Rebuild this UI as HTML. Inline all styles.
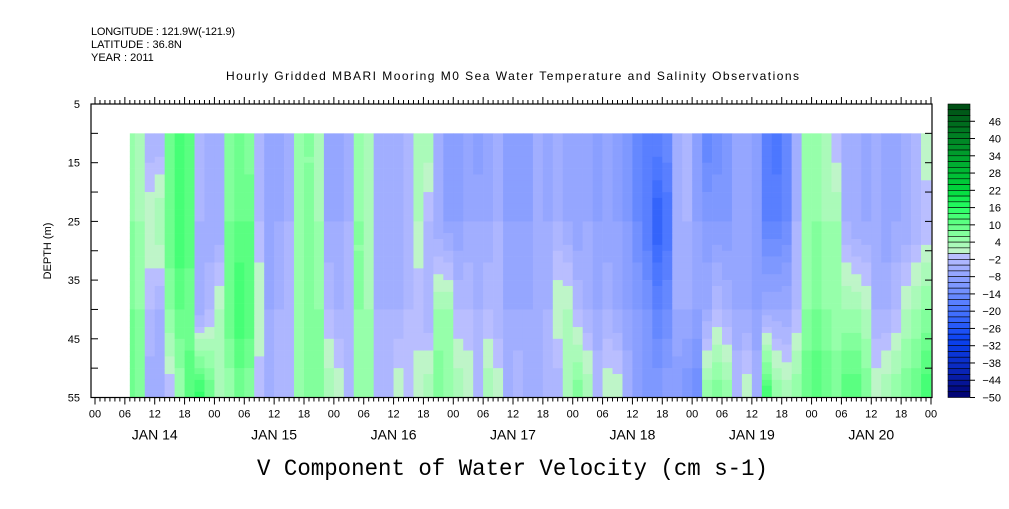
<!DOCTYPE html>
<html><head><meta charset="utf-8"><style>
body{margin:0;background:#fff;width:1009px;height:504px;overflow:hidden}
svg text{font-family:"Liberation Sans",sans-serif;fill:#000}
</style></head><body>
<svg id="c" width="1009" height="504" xmlns="http://www.w3.org/2000/svg">
<text x="91" y="35" font-size="11" textLength="144">LONGITUDE : 121.9W(-121.9)</text>
<text x="91" y="48" font-size="11">LATITUDE : 36.8N</text>
<text x="91" y="61" font-size="11">YEAR : 2011</text>
<text x="226" y="80" font-size="12" textLength="573" lengthAdjust="spacing">Hourly Gridded MBARI Mooring M0 Sea Water Temperature and Salinity Observations</text>
<text x="257" y="475" font-size="23" textLength="511" lengthAdjust="spacingAndGlyphs" style="font-family:'Liberation Mono',monospace">V Component of Water Velocity (cm s-1)</text>
<text transform="translate(51,251) rotate(-90)" font-size="11" text-anchor="middle">DEPTH (m)</text>
<g id="heat"></g>
<g id="axes"></g>
<g id="cbar"></g>
</svg>
<script>
const hours=[7,9,11,13,15,17,19,21,23,25,27,29,31,33,35,37,39,41,43,45,47,49,51,53,55,57,59,61,63,65,67,69,71,73,75,77,79,81,83,85,87,89,91,93,95,97,99,101,103,105,107,109,111,113,115,117,119,121,123,125,127,129,131,133,135,137,139,141,143,145,147,149,151,153,155,157,159,161,163,165,167];
const depthNodes=[10,25,40,55];
const v10=[4,2,-4,-4,8,12,10,-4,-6,-4,6,8,6,-4,-8,-8,-6,4,6,2,-8,-8,-6,4,2,-6,-4,-6,-4,4,4,-6,-10,-10,-8,-10,-8,-6,-10,-10,-10,-6,-8,-6,-8,-8,-8,-10,-8,-10,-12,-16,-18,-16,-14,-4,-4,-10,-16,-14,-12,-8,-8,-10,-18,-20,-16,-6,4,4,2,-2,-6,-6,-8,-6,-8,-8,-6,-4,2];
const v25=[6,4,2,4,10,14,12,-4,-6,-6,8,10,10,-2,-8,-6,-4,4,6,4,-6,-6,-4,6,2,-6,-6,-6,-4,2,-2,-6,-8,-8,-6,-6,-6,-4,-8,-8,-8,-6,-6,-4,-6,-8,-6,-8,-8,-8,-10,-14,-18,-24,-20,-6,-4,-8,-10,-10,-10,-8,-8,-10,-16,-16,-14,-4,4,6,4,4,-4,-6,-6,-6,-8,-6,-6,-4,-2];
const v40=[8,6,-2,-4,6,10,8,-6,-2,2,10,14,12,2,-6,-4,-4,6,8,6,-2,-4,-4,6,4,-4,-4,-4,-2,-2,-4,4,4,-2,-2,-4,-2,-4,-6,-6,-6,-6,-4,2,2,-2,-4,-6,-4,-6,-8,-10,-12,-16,-14,-6,-6,-8,-6,-2,-4,-6,-6,-8,-6,-6,-6,-2,6,8,6,4,4,4,2,-4,-4,-2,2,4,6];
const v55=[10,8,-6,-6,-2,4,12,16,10,2,4,8,6,-2,-4,-2,-2,4,6,8,4,2,-2,4,4,-2,-4,2,-2,2,4,8,6,4,2,-2,4,2,-4,-2,-4,-4,-4,-4,4,8,4,-2,2,2,-4,-8,-10,-10,-8,-10,-12,-14,6,8,6,-2,2,-4,14,6,4,6,10,12,10,8,12,12,8,2,4,6,8,10,14];
const cbLabels=[46,40,34,28,22,16,10,4,-2,-8,-14,-20,-26,-32,-38,-44,-50];
const dayLabels=["JAN 14","JAN 15","JAN 16","JAN 17","JAN 18","JAN 19","JAN 20"];
const depthTicks=[5,15,25,35,45,55];

const NS="http://www.w3.org/2000/svg";
const X0=95,PXH=836/168,Y0=104,Y1=397.5;
const xs=h=>X0+h*PXH;
const ys=d=>Y0+(d-5)*(Y1-Y0)/50;
function mk(t,a,p){const e=document.createElementNS(NS,t);for(const k in a)e.setAttribute(k,a[k]);p.appendChild(e);return e;}
const stops=[[-50,[0,0,110]],[-40,[10,40,190]],[-30,[10,65,240]],[-20,[70,115,255]],[-12,[120,148,255]],[-6,[155,170,255]],[-1,[185,190,255]],[1,[190,245,200]],[5,[150,255,170]],[10,[100,255,135]],[16,[40,255,100]],[22,[0,215,60]],[34,[0,160,45]],[52,[0,75,20]]];
function col(v){if(v<=stops[0][0])return rgb(stops[0][1]);for(let i=1;i<stops.length;i++){if(v<=stops[i][0]){const a=stops[i-1],b=stops[i];const t=(v-a[0])/(b[0]-a[0]);return rgb(a[1].map((c,j)=>Math.round(c+(b[1][j]-c)*t)));}}return rgb(stops[stops.length-1][1]);}
function rgb(c){return "rgb("+c.join(",")+")";}
function q(v){return Math.floor(v/2)*2+1;}
const heat=document.getElementById('heat');
const series=[v10,v25,v40,v55];
for(let i=0;i<hours.length;i++){
  const h0=Math.max(hours[i]-1,7),h1=hours[i]+1;
  for(let d=10;d<55;d+=1){
    const dm=d+0.5;let k=Math.min(2,Math.floor((dm-10)/15));const t=(dm-depthNodes[k])/15;
    const v=series[k][i]*(1-t)+series[k+1][i]*t;
    const r=mk('rect',{x:xs(h0),y:ys(d),width:xs(h1)-xs(h0)+0.3,height:ys(d+1)-ys(d)+0.3,fill:col(q(v))},heat);
    
    
  }
}
const ax=document.getElementById('axes');
mk('rect',{x:91,y:Y0,width:841,height:Y1-Y0,fill:'none',stroke:'#000','stroke-width':1.2},ax);
for(let h=0;h<=168;h++){
  const x=xs(h),L=h%6==0?7:4;
  mk('line',{x1:x,x2:x,y1:Y0,y2:Y0-L,stroke:'#000'},ax);
  mk('line',{x1:x,x2:x,y1:Y1,y2:Y1+L,stroke:'#000'},ax);
  if(h%6==0){const t=mk('text',{x:x,y:Y1+20,'font-size':11,'text-anchor':'middle'},ax);t.textContent=String(h%24).padStart(2,'0');
    }
}
dayLabels.forEach((s,i)=>{const t=mk('text',{x:xs(i*24+12),y:Y1+42,'font-size':14,'text-anchor':'middle'},ax);t.textContent=s;
  });
for(let d=5;d<=55;d+=5){const y=ys(d);mk('line',{x1:91,x2:98,y1:y,y2:y,stroke:'#000'},ax);mk('line',{x1:932,x2:925,y1:y,y2:y,stroke:'#000'},ax);}
depthTicks.forEach(d=>{const t=mk('text',{x:80,y:ys(d)+4,'font-size':11,'text-anchor':'end'},ax);t.textContent=d;
  });
const cb=document.getElementById('cbar');
const n=51,cy0=104,ch=(397.5-104)/n;
for(let i=0;i<n;i++){const v=52-2*i-1;const r=mk('rect',{x:948,y:cy0+i*ch,width:22,height:ch,fill:col(v),stroke:'#000','stroke-width':0.6},cb);
  }
cbLabels.forEach(v=>{const y=cy0+(52-v)/2*ch;mk('line',{x1:970,x2:975,y1:y,y2:y,stroke:'#000'},cb);
  const t=mk('text',{x:1001,y:y+4,'font-size':11,'text-anchor':'end'},cb);t.textContent=String(v).replace('-','\u2212');
  });
</script>
</body></html>
